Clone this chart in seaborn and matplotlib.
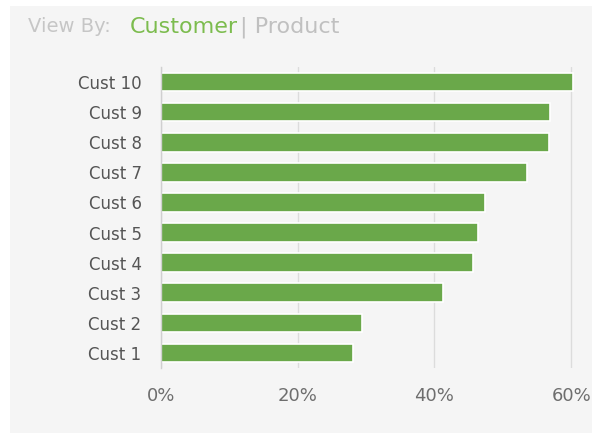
import matplotlib
matplotlib.use("Agg")
import matplotlib.pyplot as plt
from matplotlib.patches import Rectangle
from matplotlib.ticker import FixedLocator, FuncFormatter
import seaborn as sns
import pandas as pd

customers = ["Cust 10", "Cust 9", "Cust 8", "Cust 7", "Cust 6",
             "Cust 5", "Cust 4", "Cust 3", "Cust 2", "Cust 1"]
share_pct = [60.3, 56.9, 56.8, 53.6, 47.4, 46.4, 45.7, 41.3, 29.4, 28.1]
x_ticks = [0, 20, 40, 60]

df = pd.DataFrame({"customer": customers, "share": share_pct})

sns.set_theme(style="white")
plt.rcParams["font.family"] = ["DejaVu Sans"]

panel = "#f5f5f5"
bar_color = "#6aa84a"
text_gray = "#555555"
grid_gray = "#dcdcdc"

fig = plt.figure(figsize=(5.92, 4.33), dpi=100)
fig.patch.set_facecolor("white")
fig.patches.append(Rectangle((10 / 592, 0), 1, 1 - 6 / 433,
                             transform=fig.transFigure, facecolor=panel,
                             edgecolor="none", zorder=-10))

ax = fig.add_axes([161 / 592, 1 - 368 / 433, 417 / 592, 301 / 433])
ax.set_facecolor(panel)

sns.barplot(data=df, y="customer", x="share", orient="h", color=bar_color,
            width=0.62, edgecolor="white", linewidth=1.2, saturation=1, ax=ax)

ax.set_xlim(0, 61)
ax.set_ylim(9.5, -0.5)
ax.xaxis.set_major_locator(FixedLocator(x_ticks))
ax.xaxis.set_major_formatter(FuncFormatter(lambda v, _: f"{v:.0f}%"))
ax.grid(axis="x", color=grid_gray, linewidth=1)
ax.set_axisbelow(True)
ax.set_xlabel("")
ax.set_ylabel("")

for side in ("top", "right", "bottom"):
    ax.spines[side].set_visible(False)
ax.spines["left"].set_color("#d0d0d0")
ax.spines["left"].set_linewidth(1)

ax.tick_params(axis="x", length=0, pad=14, labelsize=13, labelcolor="#6e6e6e")
ax.tick_params(axis="y", length=0, pad=14, labelsize=12, labelcolor=text_gray)
ax.yaxis.set_minor_locator(FixedLocator([i - 0.5 for i in range(len(customers) + 1)]))
ax.tick_params(axis="y", which="minor", length=4, color="#d0d0d0", width=1)

fig.text(28 / 592, 1 - 27 / 433, "View By:", fontsize=14, color="#c6c6c6",
         va="center", ha="left")
fig.text(130 / 592, 1 - 27 / 433, "Customer", fontsize=16, color="#7cbc4e",
         va="center", ha="left")
fig.text(240 / 592, 1 - 27 / 433, "| Product", fontsize=16, color="#c0c0c0",
         va="center", ha="left")

fig.savefig("out.png", dpi=100, facecolor=fig.get_facecolor())
